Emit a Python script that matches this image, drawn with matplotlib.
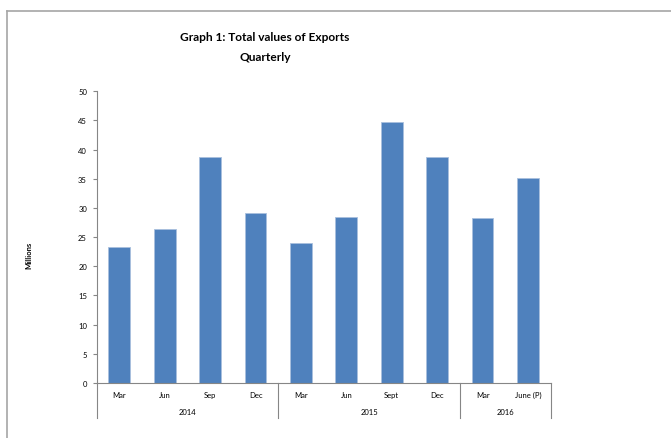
import matplotlib.pyplot as plt
from matplotlib.lines import Line2D
from matplotlib.transforms import blended_transform_factory

# quarterly export values, millions
months = ["Mar", "Jun", "Sep", "Dec", "Mar", "Jun", "Sept", "Dec", "Mar", "June (P)"]
values = [23.3, 26.4, 38.7, 29.1, 24.0, 28.4, 44.8, 38.8, 28.2, 35.1]
years = ["2014", "2015", "2016"]
year_counts = [4, 4, 2]
yticks = list(range(0, 55, 5))

plt.rcParams["font.family"] = ["Lato", "DejaVu Sans"]
grey = "#868686"

fig = plt.figure(figsize=(6.71, 4.39), dpi=100)
ax = fig.add_axes([0.1441, 0.1253, 0.6766, 0.6644])

x = list(range(len(values)))
ax.bar(x, values, width=0.48, color="#4F81BD", edgecolor="#A9C0DE", linewidth=0.6)

ax.set_xlim(-0.5, len(values) - 0.5)
ax.set_ylim(0, 50)
ax.set_yticks(yticks)
ax.tick_params(axis="y", labelsize=5.5, length=3, color=grey, pad=4)
ax.set_xticks([])
for side in ("top", "right"):
    ax.spines[side].set_visible(False)
for side in ("left", "bottom"):
    ax.spines[side].set_color(grey)
    ax.spines[side].set_linewidth(0.8)

# two-level category axis like the spreadsheet one
trans = blended_transform_factory(ax.transData, ax.transAxes)
for i, m in enumerate(months):
    ax.text(i, -0.048, m, transform=trans, ha="center", va="baseline", fontsize=5.5)
start = -0.5
bounds = [start]
for yr, n in zip(years, year_counts):
    ax.text(start + n / 2, -0.107, yr, transform=trans, ha="center", va="baseline", fontsize=5.5)
    start += n
    bounds.append(start)
for b in bounds:
    ax.add_line(Line2D([b, b], [0, -0.12], transform=trans, color=grey, lw=0.8, clip_on=False))

ax.set_ylabel("Millions", fontsize=5.5, fontweight="bold")
ax.yaxis.set_label_coords(-0.1425, 0.442)

fig.text(0.395, 0.915, "Graph 1: Total values of Exports", ha="center", va="center",
         fontsize=8.6, fontweight="bold")
fig.text(0.395, 0.868, "Quarterly", ha="center", va="center", fontsize=8.6, fontweight="bold")

# outer chart frame
fig.add_artist(Line2D([7 / 671, 7 / 671], [0, 1 - 12 / 439], color="#A6A6A6", lw=1.2))
fig.add_artist(Line2D([7 / 671, 1], [1 - 12 / 439, 1 - 12 / 439], color="#A6A6A6", lw=1.2))

fig.savefig("out.png", dpi=100)
